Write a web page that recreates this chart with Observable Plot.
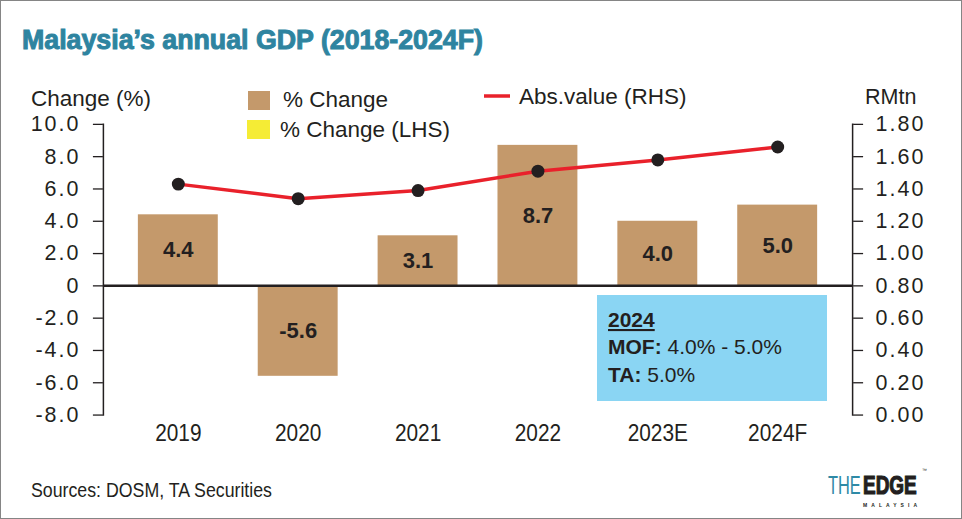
<!DOCTYPE html>
<html><head><meta charset="utf-8">
<script src="https://cdn.jsdelivr.net/npm/d3@7"></script>
<script src="https://cdn.jsdelivr.net/npm/@observablehq/plot@0.6"></script>
<style>
html,body{margin:0;padding:0;background:#fff;}
#wrap{position:relative;width:962px;height:519px;box-sizing:border-box;border:1px solid #858585;overflow:hidden;font-family:"Liberation Sans",Arial,Helvetica,sans-serif;}
#chart,#overlay{position:absolute;left:-1px;top:-1px;}
#overlay{pointer-events:none;}
#chart g[aria-label="y-axis tick label"] text{letter-spacing:2px;}
</style></head>
<body><div id="wrap"><div id="chart"></div><svg id="overlay" width="962" height="519"></svg></div>
<script>
// ---- data ----
const years = ["2019", "2020", "2021", "2022", "2023E", "2024F"];
const pctChange = [4.4, -5.6, 3.1, 8.7, 4.0, 5.0];          // % change (LHS)
const absValue = [1.43, 1.34, 1.39, 1.51, 1.58, 1.66];      // RM trillion (RHS)
const leftTicks = [-8, -6, -4, -2, 0, 2, 4, 6, 8, 10];
const rightTicks = [0, 0.2, 0.4, 0.6, 0.8, 1.0, 1.2, 1.4, 1.6, 1.8];

// RHS axis (0–1.80) is aligned with LHS (-8–10)
const rhsToLhs = v => 10 * v - 8;
const lhsToRhs = v => (v + 8) / 10;

const rows = years.map((year, i) => ({year, pct: pctChange[i], abs: absValue[i]}));
const ink = "#231f20";

const chart = Plot.plot({
  width: 962, height: 519,
  marginLeft: 103, marginRight: 109, marginTop: 124, marginBottom: 104,
  style: {fontFamily: '"Liberation Sans", Arial, sans-serif', fontSize: "21.5px", color: ink, background: "transparent", overflow: "visible"},
  x: {domain: years, paddingInner: 0.333, paddingOuter: 0.28, label: null},
  y: {domain: [-8, 10], label: null},
  marks: [
    Plot.barY(rows, {x: "year", y: "pct", fill: "#c4996b"}),
    Plot.ruleY([0], {stroke: ink, strokeWidth: 2.5}),
    Plot.frame({anchor: "left", stroke: ink, strokeWidth: 1.5}),
    Plot.frame({anchor: "right", stroke: ink, strokeWidth: 1.5}),
    Plot.axisY(leftTicks, {anchor: "left", tickSize: 10, tickPadding: 13, tickFormat: d => d === 0 ? "0" : d.toFixed(1), label: null, stroke: ink, strokeWidth: 1.3}),
    Plot.axisY(rightTicks.map(rhsToLhs), {anchor: "right", tickSize: 10, tickPadding: 13, tickFormat: d => lhsToRhs(d).toFixed(2), label: null, stroke: ink, strokeWidth: 1.3}),
    Plot.axisX({tickSize: 0, tickPadding: 9, label: null, fontSize: 24}),
    Plot.lineY(rows, {x: "year", y: d => rhsToLhs(d.abs), stroke: "#e9212b", strokeWidth: 3.5}),
    Plot.dot(rows, {x: "year", y: d => rhsToLhs(d.abs), r: 6.5, fill: ink, stroke: "none"}),
    Plot.text(rows, {x: "year", y: d => d.pct / 2, text: d => d.pct.toFixed(1), fontWeight: "bold", fontSize: 22, fill: ink})
  ]
});
document.getElementById("chart").appendChild(chart);

// condensed look for the x tick labels
chart.querySelectorAll('g[aria-label="x-axis tick label"] text').forEach(t => {
  const w = t.getComputedTextLength();
  t.setAttribute("textLength", (w * 0.87).toFixed(1));
  t.setAttribute("lengthAdjust", "spacingAndGlyphs");
});

// ---- annotations ----
const NS = "http://www.w3.org/2000/svg";
const ov = document.getElementById("overlay");
function el(tag, attrs, text, parent) {
  const e = document.createElementNS(NS, tag);
  for (const k in attrs) e.setAttribute(k, attrs[k]);
  if (text != null) e.textContent = text;
  (parent || ov).appendChild(e);
  return e;
}
const sans = '"Liberation Sans", Arial, sans-serif';

el("text", {x: 22, y: 49, "font-family": sans, "font-size": 27, "font-weight": "bold", fill: "#2e84a0", stroke: "#2e84a0", "stroke-width": 1.0, textLength: 461, lengthAdjust: "spacingAndGlyphs"}, "Malaysia’s annual GDP (2018-2024F)");

el("text", {x: 31, y: 106, "font-family": sans, "font-size": 22.5, fill: ink}, "Change (%)");
el("text", {x: 865, y: 104, "font-family": sans, "font-size": 21.5, fill: ink}, "RMtn");

// legend
el("rect", {x: 248, y: 91, width: 22, height: 19, fill: "#c4996b"});
el("text", {x: 283, y: 107, "font-family": sans, "font-size": 22.5, fill: ink}, "% Change");
el("rect", {x: 247, y: 120, width: 23, height: 19, fill: "#f5ec35"});
el("text", {x: 280, y: 137, "font-family": sans, "font-size": 22.5, fill: ink}, "% Change (LHS)");
el("line", {x1: 484, x2: 510, y1: 96, y2: 96, stroke: "#e9212b", "stroke-width": 3.5});
el("text", {x: 519, y: 104, "font-family": sans, "font-size": 22.5, fill: ink}, "Abs.value (RHS)");

// info box
el("rect", {x: 597, y: 295, width: 230, height: 106, fill: "#8ad5f3"});
el("text", {x: 608, y: 327, "font-family": sans, "font-size": 21, "font-weight": "bold", fill: ink, "text-decoration": "underline"}, "2024");
const t2 = el("text", {x: 608, y: 354, "font-family": sans, "font-size": 21, fill: ink});
el("tspan", {"font-weight": "bold"}, "MOF:", t2);
el("tspan", {}, " 4.0% - 5.0%", t2);
const t3 = el("text", {x: 608, y: 382, "font-family": sans, "font-size": 21, fill: ink});
el("tspan", {"font-weight": "bold"}, "TA:", t3);
el("tspan", {}, " 5.0%", t3);

// footer
el("text", {x: 31, y: 497, "font-family": sans, "font-size": 19.5, fill: ink, textLength: 241, lengthAdjust: "spacingAndGlyphs"}, "Sources: DOSM, TA Securities");
el("text", {transform: "translate(828,494) scale(0.63,1)", x: 0, y: 0, "font-family": sans, "font-size": 26, fill: "#2e8aa6"}, "THE");
el("text", {transform: "translate(863,494) scale(0.73,1)", x: 0, y: 0, "font-family": sans, "font-size": 26, "font-weight": "bold", fill: ink, stroke: ink, "stroke-width": 1.2}, "EDGE");
el("text", {x: 863, y: 507, "font-family": sans, "font-size": 5, "font-weight": "bold", fill: ink, textLength: 54, lengthAdjust: "spacing"}, "MALAYSIA");
el("text", {x: 922, y: 472, "font-family": sans, "font-size": 5, fill: ink}, "™");
</script></body></html>
